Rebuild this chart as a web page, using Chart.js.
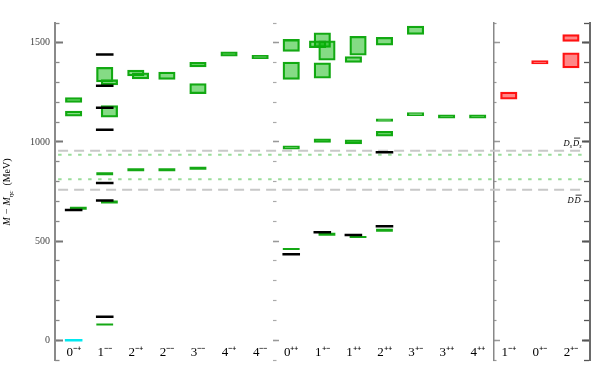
<!DOCTYPE html>
<html>
<head>
<meta charset="utf-8">
<script src="https://cdn.jsdelivr.net/npm/chart.js@4.4.1/dist/chart.umd.min.js"></script>
<style>
html,body{margin:0;padding:0;background:#fff;}
#wrap{width:601px;height:382px;}
</style>
</head>
<body>
<div id="wrap"><canvas id="c" width="601" height="382"></canvas></div>
<script>
// ---------- DATA ----------
const categories = ['0-+','1--','2-+','2--','3--','4-+','4--','0++','1+-','1++','2++','3+-','3++','4++','1-+','0+-','2+-'];
const categoryLabels = ['0⁻⁺','1⁻⁻','2⁻⁺','2⁻⁻','3⁻⁻','4⁻⁺','4⁻⁻','0⁺⁺','1⁺⁻','1⁺⁺','2⁺⁺','3⁺⁻','3⁺⁺','4⁺⁺','1⁻⁺','0⁺⁻','2⁺⁻'];
const yTickValues = [0, 500, 1000, 1500];

// Lattice (green) boxes: M - M_etac range in MeV
const latticeBoxCategory = ['0-+','0-+','1--','1--','1--','2-+','2-+','2--','3--','3--','4-+','4--','0++','0++','0++','1+-','1+-','1+-','1+-','1+-','1++','1++','1++','2++','2++','2++','3+-','3+-','3++','4++'];
const latticeBoxLow  = [1199,1130,1303,1288,1125,1333,1318,1315,1379,1244,1433,1420,1457,1315,963,1477,1475,1413,1322,997,1438,1401,990,1488,1104,1029,1542,1133,1120,1120];
const latticeBoxHigh = [1224,1156,1377,1314,1183,1363,1349,1353,1402,1294,1454,1437,1517,1403,980,1550,1510,1510,1399,1016,1533,1431,1011,1528,1117,1054,1584,1148,1137,1137];
const latticeBoxSlot = [0,0,0,1,1,0,1,0,0,0,0,0,0,0,0,0,-1,1,0,0,1,0,0,0,0,0,0,0,0,0];

// Exotic (red) boxes
const exoticBoxCategory = ['1-+','0+-','2+-','2+-'];
const exoticBoxLow  = [1216,1394,1507,1373];
const exoticBoxHigh = [1251,1410,1542,1449];

// Lattice narrow levels (green lines)
const latticeLevelCategory = ['0-+','1--','1--','2-+','2--','3--','1+-','2++'];
const latticeLevelMass     = [665,840,697,860,860,867,534,554];
const latticeLevelSlot     = [1,0,1,0,0,0,1,0];
const latticeThinCategory  = ['1--','0++','1++'];
const latticeThinMass      = [79,460,520];
const latticeThinSlot      = [0,0,1];

// Experimental levels (black)
const expCategory = ['0-+','1--','1--','1--','1--','1--','1--','1--','0++','1+-','1++','2++','2++'];
const expMass     = [657,1441,1283,1172,1061,793,704,118,434,544,530,575,948];

// Reference eta_c level (cyan)
const refCategory = ['0-+'];
const refMass = [0];

// Thresholds
const thresholdMass = [956, 759];          // Ds Dsbar, D Dbar (grey dashed)
const latticeThresholdMass = [936, 812];   // lattice thresholds (green dotted)

// ---------- CHART ----------
const SLOT = 0.15;
const colX = (c, s) => categories.indexOf(c) + (s || 0) * SLOT;
const X_MIN = -0.6, X_MAX = 16.6;
const LINE_START = -0.5, LINE_END = 16.45;

const boxes = (cats, lo, hi, slots) => cats.map((c, i) => ({x: colX(c, slots ? slots[i] : 0), y: [lo[i], hi[i]]}));
const levels = (cats, m, slots) => cats.map((c, i) => ({x: colX(c, slots ? slots[i] : 0), y: m[i]}));
const hline = (m) => [{x: LINE_START, y: m}, {x: LINE_END, y: m}];

function tickAxis(xPos, major, len, color, width, border) {
  return {
    type: 'linear', axis: 'y', position: {x: xPos}, min: -100, max: 1600,
    afterBuildTicks: major ? (s) => { s.ticks = yTickValues.map(v => ({value: v})); } : undefined,
    ticks: {display: false, stepSize: 100},
    grid: {drawOnChartArea: false, drawTicks: true, tickLength: len, tickColor: color, tickWidth: width},
    border: border ? {display: true, color: border.color, width: border.width} : {display: false}
  };
}

const lineDs = (data, color, width, dash) => ({
  type: 'line', data, borderColor: color, borderWidth: width, borderDash: dash,
  pointRadius: 0, fill: false, yAxisID: 'y', xAxisID: 'x', order: 10
});
const levelDs = (data, color, width, r, order) => ({
  type: 'scatter', data, pointStyle: 'line', pointRadius: r, pointHoverRadius: r,
  pointBorderWidth: width, pointHoverBorderWidth: width, borderColor: color, backgroundColor: color,
  yAxisID: 'y', xAxisID: 'x', order
});

const textPlugin = {
  id: 'chartTexts',
  afterDraw(chart) {
    const ctx = chart.ctx;
    const xs = chart.scales.x, ys = chart.scales.y;
    ctx.save();
    ctx.fillStyle = '#000';
    ctx.textBaseline = 'alphabetic';
    // y-axis title
    const parts = [
      {t: 'M − M', f: 'italic 10px "Liberation Serif"', dy: 0},
      {t: 'ηc', f: 'italic 7px "Liberation Serif"', dy: 2.5},
      {t: '  (MeV)', f: '10px "Liberation Serif"', dy: 0}
    ];
    let total = 0;
    parts.forEach(p => { ctx.font = p.f; p.w = ctx.measureText(p.t).width; total += p.w; });
    ctx.save();
    ctx.translate(10, 192);
    ctx.rotate(-Math.PI / 2);
    let px = -total / 2;
    parts.forEach(p => { ctx.font = p.f; ctx.fillText(p.t, px, p.dy); px += p.w; });
    ctx.restore();

    // threshold labels
    const drawPair = (cx, by, sub) => {
      const big = 'italic 8.5px "Liberation Serif"', small = 'italic 6px "Liberation Serif"';
      ctx.font = big; const dw = ctx.measureText('D').width;
      ctx.font = small; const sw = sub ? ctx.measureText('s').width : 0;
      const gap = 1;
      const w = 2 * dw + 2 * sw + gap;
      let x0 = cx - w / 2;
      ctx.font = big; ctx.fillText('D', x0, by); x0 += dw;
      if (sub) { ctx.font = small; ctx.fillText('s', x0, by + 2); x0 += sw; }
      x0 += gap;
      ctx.font = big; ctx.fillText('D', x0, by);
      ctx.fillRect(x0 + 1, by - 8, dw, 0.8);
      x0 += dw;
      if (sub) { ctx.font = small; ctx.fillText('s', x0, by + 2); }
    };
    drawPair(xs.getPixelForValue(16.05), ys.getPixelForValue(thresholdMass[0]) - 5, true);
    drawPair(xs.getPixelForValue(16.1), ys.getPixelForValue(thresholdMass[1]) + 13, false);
    ctx.restore();
  }
};

new Chart(document.getElementById('c'), {
  type: 'bar',
  data: {
    datasets: [
      lineDs(hline(thresholdMass[0]), '#c8c8c8', 2, [10, 6]),
      lineDs(hline(thresholdMass[1]), '#c8c8c8', 2, [10, 6]),
      lineDs(hline(latticeThresholdMass[0]), '#9ade9a', 2, [3.5, 6.5]),
      lineDs(hline(latticeThresholdMass[1]), '#9ade9a', 2, [3.5, 6.5]),
      {
        type: 'bar', data: boxes(latticeBoxCategory, latticeBoxLow, latticeBoxHigh, latticeBoxSlot),
        backgroundColor: 'rgba(0,180,0,0.48)', borderColor: '#14a814', borderWidth: 1.6,
        borderSkipped: false, barThickness: 16.5, grouped: false, yAxisID: 'y', xAxisID: 'x', order: 4
      },
      {
        type: 'bar', data: boxes(exoticBoxCategory, exoticBoxLow, exoticBoxHigh),
        backgroundColor: 'rgba(255,0,0,0.47)', borderColor: '#ff1414', borderWidth: 1.6,
        borderSkipped: false, barThickness: 16.5, grouped: false, yAxisID: 'y', xAxisID: 'x', order: 4
      },
      levelDs(levels(latticeLevelCategory, latticeLevelMass, latticeLevelSlot), '#14a814', 3, 8.4, 3),
      levelDs(levels(latticeThinCategory, latticeThinMass, latticeThinSlot), '#14a814', 2, 8.4, 3),
      levelDs(levels(expCategory, expMass), '#000000', 2.5, 8.8, 1),
      levelDs(levels(refCategory, refMass), '#00e8f0', 2.5, 8.8, 1)
    ]
  },
  options: {
    responsive: false,
    devicePixelRatio: 1,
    animation: false,
    events: [],
    layout: {padding: {left: 0, right: 2, top: 23, bottom: 22}},
    plugins: {legend: {display: false}, tooltip: {enabled: false}},
    scales: {
      x: {
        type: 'linear', min: X_MIN, max: X_MAX, offset: false,
        position: {y: 0},
        grid: {display: false, offset: false, drawTicks: false},
        border: {display: false},
        afterBuildTicks: (s) => { s.ticks = categories.map((c, i) => ({value: i})); },
        ticks: {
          autoSkip: false, maxRotation: 0, minRotation: 0, padding: 5,
          color: '#000', font: {family: 'Liberation Serif', size: 13},
          callback: (v, i) => categoryLabels[i]
        }
      },
      y: {
        type: 'linear', position: 'left', min: -100, max: 1600,
        afterFit: (s) => { s.width = 55; },
        afterBuildTicks: (s) => { s.ticks = yTickValues.map(v => ({value: v})); },
        grid: {drawOnChartArea: false, drawTicks: false},
        border: {display: true, color: '#8a8a8a', width: 2},
        ticks: {padding: 5, color: '#444', font: {family: 'Liberation Serif', size: 10}, callback: (v) => String(v)}
      },
      yLmin: tickAxis(X_MIN, false, -4.5, '#888', 1.3),
      yLmaj: tickAxis(X_MIN, true, -8, '#777', 2),
      yMmin: tickAxis(6.42, false, -3.5, '#aaa', 1.2),
      yMmaj: tickAxis(6.42, true, -6, '#999', 1.5),
      ySmin: tickAxis(13.52, false, -3.5, '#999', 1.2, {color: '#888', width: 1.5}),
      ySmaj: tickAxis(13.52, true, -6, '#999', 1.5),
      yRmin: tickAxis(X_MAX, false, 5, '#555', 1.3, {color: '#6a6a6a', width: 2}),
      yRmaj: tickAxis(X_MAX, true, 8, '#555', 2)
    }
  },
  plugins: [textPlugin]
});
</script>
</body>
</html>
